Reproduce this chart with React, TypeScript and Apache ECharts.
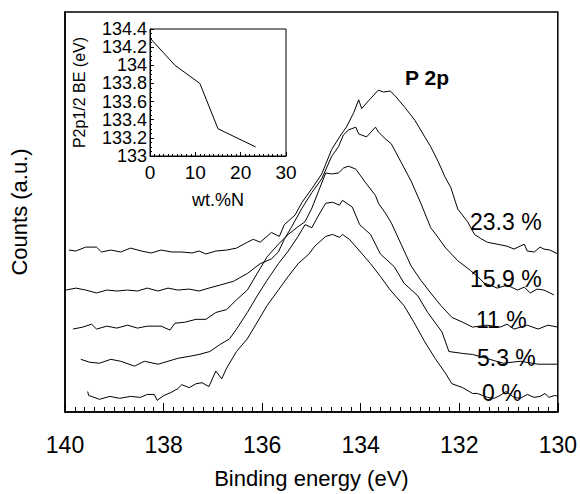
import React, { useEffect, useRef } from "react";
import * as echarts from "echarts";

// Main spectra: binding energy (eV) and counts (a.u.) per composition
const E0 = [139.54,139.52,139.30,139.09,138.89,138.67,138.47,138.33,138.19,138.13,137.99,137.85,137.71,137.63,137.48,137.34,137.22,137.08,136.94,136.82,136.72,136.52,136.30,136.10,135.90,135.67,135.47,135.27,135.05,134.93,134.71,134.57,134.43,134.37,134.23,134.02,133.80,133.60,133.40,133.12,132.92,132.70,132.49,132.27,132.15,131.93,131.73,131.63,131.43,131.29,131.17,131.05,130.89,130.76,130.62,130.48,130.36,130.26,130.18,130.06,130.00];
const C0 = [21,17,13,16,14,16,15,18,18,12,17,20,24,28,25,29,30,26,42,34,45,62,75,92,109,125,139,152,162,170,180,182,179,182,177,165,152,139,125,109,92,72,55,39,29,25,19,19,15,14,17,21,15,14,18,15,16,19,15,17,16];

const E53 = [139.68,139.50,139.30,139.07,138.87,138.59,138.39,138.11,137.91,137.71,137.48,137.28,137.06,136.86,136.66,136.52,136.30,136.10,135.90,135.67,135.47,135.27,135.13,134.99,134.85,134.71,134.57,134.43,134.37,134.17,134.02,133.80,133.60,133.32,133.12,132.84,132.64,132.35,132.21,131.93,131.73,131.45,131.11,130.76,130.40,130.00];
const C53 = [54,51,50,54,52,47,52,49,52,55,57,59,62,69,75,85,102,119,135,152,165,180,192,189,202,214,215,212,217,210,192,182,162,149,132,119,102,82,62,60,59,55,50,52,49,49];

const E11 = [139.84,139.64,139.46,139.36,139.15,138.95,138.73,138.53,138.33,138.05,137.87,137.77,137.57,137.34,137.14,136.94,136.72,136.52,136.30,136.10,135.90,135.67,135.47,135.27,135.13,134.99,134.85,134.71,134.59,134.45,134.35,134.25,134.10,134.00,133.90,133.70,133.64,133.50,133.38,133.18,132.98,132.78,132.58,132.37,132.15,131.93,131.73,131.45,131.17,131.03,130.89,130.62,130.40,130.20,130.00];
const C11 = [85,87,90,85,88,86,89,86,88,88,84,91,92,95,95,102,105,115,125,142,159,172,182,190,195,209,227,245,244,245,250,252,249,242,235,222,214,204,194,172,150,135,122,109,97,92,87,89,87,90,85,89,85,89,87];

const E159 = [139.98,139.78,139.58,139.36,139.15,138.95,138.73,138.53,138.33,138.11,137.91,137.71,137.48,137.28,137.08,136.86,136.58,136.30,136.04,135.81,135.67,135.55,135.41,135.19,134.99,134.79,134.59,134.45,134.35,134.25,134.10,134.04,133.88,133.70,133.64,133.50,133.38,133.18,132.98,132.78,132.58,132.43,132.29,132.03,131.77,131.63,131.49,131.37,131.23,131.03,130.82,130.68,130.56,130.42,130.28,130.08];
const C159 = [125,127,125,122,125,124,125,124,127,124,127,125,126,124,127,130,134,142,152,157,164,177,189,209,225,239,262,272,284,289,292,285,282,292,287,280,275,256,237,214,189,179,169,155,145,139,132,130,127,130,125,128,122,126,125,120];

const E233 = [139.92,139.78,139.58,139.36,139.26,139.07,138.87,138.67,138.45,138.25,138.05,137.83,137.63,137.42,137.28,137.14,136.94,136.72,136.52,136.30,136.18,136.04,135.81,135.65,135.55,135.33,135.19,134.99,134.79,134.59,134.39,134.29,134.14,134.04,133.98,133.84,133.64,133.54,133.40,133.30,133.10,132.90,132.70,132.58,132.43,132.29,132.17,132.03,131.83,131.69,131.57,131.43,131.23,131.03,130.89,130.68,130.62,130.48,130.36,130.28,130.16,130.00];
const C233 = [166,165,169,169,164,166,164,168,165,163,166,164,164,163,165,162,165,166,168,174,177,174,184,180,192,202,215,229,244,269,285,292,307,320,311,319,330,328,329,324,312,299,282,272,257,241,230,208,195,182,178,174,172,170,167,172,165,164,169,167,166,162];

const curveLabels = ["23.3 %", "15.9 %", "11 %", "5.3 %", "0 %"];

// Inset: P2p1/2 binding energy vs nitrogen content
const wtN = [0, 5.5, 11, 15, 23.3];
const beP = [134.3, 134.0, 133.8, 133.3, 133.1];

const FONT = "'Liberation Sans', Arial, sans-serif";

function pairs(xs: number[], ys: number[]) {
  return xs.map((x, i) => [x, ys[i]]);
}

export default function App() {
  const ref = useRef<HTMLDivElement>(null);
  useEffect(() => {
    if (!ref.current) return;
    const chart = echarts.init(ref.current, null, { renderer: "svg" });
    const lineStyle = { color: "#000", width: 1 };
    const mk = (xs: number[], ys: number[]) => ({
      type: "line",
      xAxisIndex: 0,
      yAxisIndex: 0,
      data: pairs(xs, ys),
      showSymbol: false,
      symbol: "none",
      lineStyle,
      silent: true,
    });
    const labelPos = [
      [470, 222],
      [470, 279],
      [476, 320],
      [477, 358],
      [482, 393],
    ];
    chart.setOption({
      animation: false,
      backgroundColor: "#fff",
      textStyle: { fontFamily: FONT, color: "#000" },
      grid: [
        { left: 64, right: 19, top: 12, bottom: 72, show: true, borderColor: "#000", borderWidth: 1.5 },
        { left: 150, top: 29, width: 136, height: 127, show: true, borderColor: "#000", borderWidth: 1 },
      ],
      xAxis: [
        {
          type: "value",
          gridIndex: 0,
          min: 130,
          max: 140,
          interval: 2,
          inverse: true,
          axisLine: { lineStyle: { color: "#000", width: 1.5 } },
          axisTick: { inside: true, length: 9, lineStyle: { color: "#000" } },
          minorTick: { show: true, splitNumber: 10, length: 5, lineStyle: { color: "#000" } },
          axisLabel: { fontSize: 23, color: "#000", fontFamily: FONT, margin: 21 },
          splitLine: { show: false },
          name: "Binding energy (eV)",
          nameLocation: "middle",
          nameGap: 55,
          nameTextStyle: { fontSize: 22, color: "#000", fontFamily: FONT },
        },
        {
          type: "value",
          gridIndex: 1,
          min: 0,
          max: 30,
          interval: 10,
          axisLine: { lineStyle: { color: "#000", width: 1 } },
          axisTick: { inside: true, length: 4, lineStyle: { color: "#000" } },
          minorTick: { show: true, splitNumber: 10, length: 2, lineStyle: { color: "#000" } },
          axisLabel: { fontSize: 19, color: "#000", fontFamily: FONT, margin: 7 },
          splitLine: { show: false },
          name: "wt.%N",
          nameLocation: "middle",
          nameGap: 35,
          nameTextStyle: { fontSize: 18, color: "#000", fontFamily: FONT },
        },
      ],
      yAxis: [
        {
          type: "value",
          gridIndex: 0,
          min: 0,
          max: 410,
          axisLine: { show: true, lineStyle: { color: "#000", width: 1.5 } },
          axisTick: { show: false },
          axisLabel: { show: false },
          splitLine: { show: false },
          name: "Counts (a.u.)",
          nameLocation: "middle",
          nameRotate: 90,
          nameGap: 35,
          nameTextStyle: { fontSize: 22, color: "#000", fontFamily: FONT },
        },
        {
          type: "value",
          gridIndex: 1,
          min: 133,
          max: 134.4,
          interval: 0.2,
          axisLine: { show: true, lineStyle: { color: "#000", width: 1 } },
          axisTick: { inside: true, length: 4, lineStyle: { color: "#000" } },
          minorTick: { show: true, splitNumber: 4, length: 2, lineStyle: { color: "#000" } },
          axisLabel: { fontSize: 18, color: "#000", fontFamily: FONT, margin: 3, formatter: (v: number) => String(Math.round(v * 10) / 10) },
          splitLine: { show: false },
          name: "P2p1/2 BE (eV)",
          nameLocation: "middle",
          nameRotate: 90,
          nameGap: 63,
          nameTextStyle: { fontSize: 16, color: "#000", fontFamily: FONT },
        },
      ],
      series: [
        mk(E233, C233),
        mk(E159, C159),
        mk(E11, C11),
        mk(E53, C53),
        mk(E0, C0),
        {
          type: "line",
          xAxisIndex: 1,
          yAxisIndex: 1,
          data: pairs(wtN, beP),
          showSymbol: false,
          symbol: "none",
          lineStyle,
          silent: true,
        },
      ],
      graphic: [
        ...curveLabels.map((t, i) => ({
          type: "text",
          x: labelPos[i][0],
          y: labelPos[i][1],
          style: { text: t, fontSize: 23, fontFamily: FONT, fill: "#000", verticalAlign: "middle" },
        })),
        {
          type: "text",
          x: 427,
          y: 77,
          style: { text: "P 2p", fontSize: 21, fontWeight: "bold", fontFamily: FONT, fill: "#000", align: "center", verticalAlign: "middle" },
        },
      ],
    });
    return () => chart.dispose();
  }, []);
  return <div ref={ref} style={{ position: "absolute", left: 0, top: 0, width: 580, height: 494 }} />;
}
